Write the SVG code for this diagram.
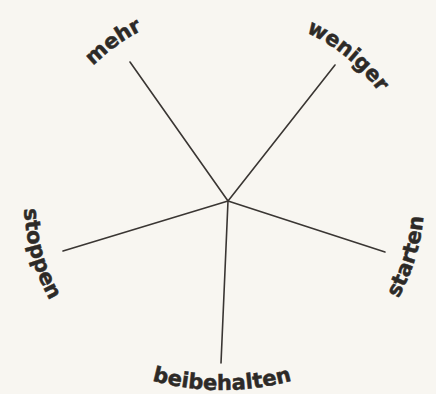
<svg xmlns="http://www.w3.org/2000/svg" xmlns:xlink="http://www.w3.org/1999/xlink" width="436" height="394" viewBox="0 0 436 394">
<style>
.lbl{font-family:"DejaVu Sans","Liberation Sans",sans-serif;font-weight:700;font-size:21px;fill:#2d2a27;stroke:#2d2a27;stroke-width:0.5;}
.con{stroke:#3a3633;stroke-width:1.6;fill:none;stroke-linecap:round;}
</style>
<defs>
<path id="p-mehr" d="M42.8,154.1 A191,191 0 0 1 242.0,10.5"/>
<path id="p-weniger" d="M226.4,15.0 A186,186 0 0 1 410.9,167.1"/>
<path id="p-starten" d="M334.2,365.8 A196,196 0 0 0 408.7,125.0"/>
<path id="p-beibehalten" d="M110,365.2 A265,265 0 0 0 334,365.2"/>
<path id="p-stoppen" d="M42.1,117.1 A204,204 0 0 0 113.0,369.5"/>
</defs>
<rect width="436" height="394" fill="#f8f6f1"/>
<g id="connectors">
<line class="con" x1="228" y1="201" x2="130" y2="62"/>
<line class="con" x1="228" y1="201" x2="335" y2="65"/>
<line class="con" x1="228" y1="201" x2="385" y2="252"/>
<line class="con" x1="228" y1="201" x2="221" y2="363"/>
<line class="con" x1="228" y1="201" x2="63" y2="251"/>
</g>
<g id="mehr"><text class="lbl" text-anchor="middle"><textPath xlink:href="#p-mehr" href="#p-mehr" startOffset="50%">mehr</textPath></text></g>
<g id="weniger"><text class="lbl" text-anchor="middle"><textPath xlink:href="#p-weniger" href="#p-weniger" startOffset="50%">weniger</textPath></text></g>
<g id="starten"><text class="lbl" text-anchor="middle"><textPath xlink:href="#p-starten" href="#p-starten" startOffset="50%">starten</textPath></text></g>
<g id="beibehalten"><text class="lbl" text-anchor="middle"><textPath xlink:href="#p-beibehalten" href="#p-beibehalten" startOffset="50%">beibehalten</textPath></text></g>
<g id="stoppen"><text class="lbl" text-anchor="middle"><textPath xlink:href="#p-stoppen" href="#p-stoppen" startOffset="50%">stoppen</textPath></text></g>
</svg>
